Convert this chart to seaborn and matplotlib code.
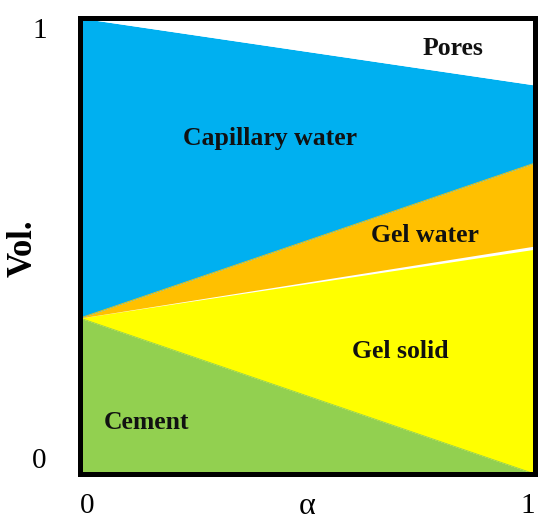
import numpy as np
import pandas as pd
import matplotlib
matplotlib.use("Agg")
import matplotlib.pyplot as plt
import seaborn as sns

# Data: boundaries at alpha = 0 and alpha = 1
alpha = [0.0, 1.0]
cement_top = [0.342, 0.0]
gel_solid_top = [0.342, 0.493]
gel_water_bottom = [0.342, 0.500]
gel_water_top = [0.342, 0.682]
capillary_top = [1.0, 0.853]
region_labels = ["Pores", "Capillary water", "Gel water", "Gel solid", "Cement"]
label_pos = [(0.82, 0.934), (0.418, 0.735), (0.758, 0.522), (0.703, 0.268), (0.147, 0.114)]
tick_labels = ["0", "1"]

colors = {"Cement": "#92D050", "Gel solid": "#FFFF00", "Gel water": "#FFC000",
          "Capillary water": "#00B0F0", "Pores": "#FFFFFF"}

sns.set_theme(style="white")
plt.rcParams['font.family'] = ['Liberation Serif', 'DejaVu Serif']

fig = plt.figure(figsize=(5.5, 5.27), dpi=100)
ax = fig.add_axes([80/550, 1-474/527, 455/550, 456/527])

df = pd.DataFrame({"alpha": alpha, "cement": cement_top, "gs": gel_solid_top,
                   "gwb": gel_water_bottom, "gwt": gel_water_top, "cap": capillary_top})

ax.fill_between(df.alpha, 0, df.cement, color=colors["Cement"], lw=0)
ax.fill_between(df.alpha, df.cement, df.gs, color=colors["Gel solid"], lw=0)
ax.fill_between(df.alpha, df.gwb, df.gwt, color=colors["Gel water"], lw=0)
ax.fill_between(df.alpha, df.gwt, df.cap, color=colors["Capillary water"], lw=0)
ax.fill_between(df.alpha, df.cap, 1, color=colors["Pores"], lw=0)
sns.lineplot(data=df, x="alpha", y="gwt", ax=ax, color=colors["Gel water"], lw=0.6)
sns.lineplot(data=df, x="alpha", y="cement", ax=ax, color=colors["Cement"], lw=0.6)

ax.set_xlim(0, 1)
ax.set_ylim(0, 1)

for name, (x, y) in zip(region_labels, label_pos):
    ax.text(x, y, name, transform=ax.transAxes, ha="center", va="center",
            fontsize=18.5, fontweight="bold", color="#111111")

ax.set_xticks([0, 1])
ax.set_yticks([0, 1])
ax.set_xticklabels(tick_labels, fontsize=21, color="black")
ax.set_yticklabels(tick_labels, fontsize=21, color="black")
xl = ax.get_xticklabels()
xl[0].set_ha("left"); xl[1].set_ha("right")
yl = ax.get_yticklabels()
yl[0].set_va("bottom"); yl[1].set_va("top")
ax.tick_params(axis="both", length=0)
ax.tick_params(axis="x", pad=14)
ax.tick_params(axis="y", pad=24)

ax.set_xlabel("α", fontsize=23, color="black")
ax.xaxis.set_label_coords(0.50, -0.04)
ax.xaxis.label.set_va("top")
ax.set_ylabel("Vol.", fontsize=25, fontweight="bold", color="black")
ax.yaxis.set_label_coords(-0.125, 0.495)
ax.yaxis.label.set_va("center")

for s in ax.spines.values():
    s.set_visible(True)
    s.set_color("black")
    s.set_linewidth(3.6)

fig.savefig("out.png", dpi=100)
